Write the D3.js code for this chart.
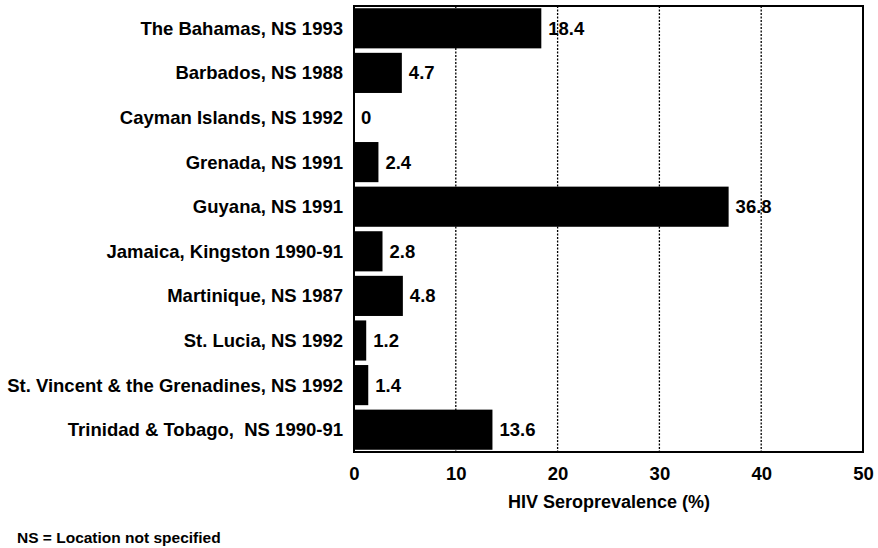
<!DOCTYPE html>
<html>
<head>
<meta charset="utf-8">
<script src="https://cdn.jsdelivr.net/npm/d3@7/dist/d3.min.js"></script>
<style>
  body { margin: 0; background: #fff; }
  svg { display: block; font-family: "Liberation Sans", Arial, sans-serif; }
</style>
</head>
<body>
<div id="chart"></div>
<script>
var categories = [
  "The Bahamas, NS 1993",
  "Barbados, NS 1988",
  "Cayman Islands, NS 1992",
  "Grenada, NS 1991",
  "Guyana, NS 1991",
  "Jamaica, Kingston 1990-91",
  "Martinique, NS 1987",
  "St. Lucia, NS 1992",
  "St. Vincent & the Grenadines, NS 1992",
  "Trinidad & Tobago,  NS 1990-91"
];
var values = [18.4, 4.7, 0, 2.4, 36.8, 2.8, 4.8, 1.2, 1.4, 13.6];
var xTicks = [0, 10, 20, 30, 40, 50];

var width = 878, height = 548;
var margins = { top: 6, right: 15, bottom: 96, left: 354 };
var chartWidth = width - margins.left - margins.right;
var chartHeight = height - margins.top - margins.bottom;

var svg = d3.select("#chart").append("svg")
  .attr("width", width)
  .attr("height", height);

var chartElement = svg.append("g")
  .attr("transform", `translate(${margins.left},${margins.top})`);

var xScale = d3.scaleLinear().domain([0, 50]).range([0, chartWidth]);
var yScale = d3.scaleBand().domain(categories).range([0, chartHeight]).paddingInner(0.1).paddingOuter(0.05);

// Dotted grid lines
chartElement.append("g")
  .selectAll("line")
  .data(xTicks.filter((d) => d > 0 && d < 50))
  .enter()
  .append("line")
  .attr("x1", (d) => xScale(d))
  .attr("x2", (d) => xScale(d))
  .attr("y1", 0)
  .attr("y2", chartHeight)
  .style("stroke", "#000")
  .style("stroke-width", 1.3)
  .style("stroke-dasharray", "2,1.5");

// Bars
chartElement.append("g")
  .selectAll("rect")
  .data(values)
  .enter()
  .append("rect")
  .attr("x", xScale(0))
  .attr("y", (d, i) => yScale(categories[i]))
  .attr("width", (d) => xScale(d) - xScale(0))
  .attr("height", yScale.bandwidth())
  .style("fill", "#000");

// Frame
chartElement.append("rect")
  .attr("x", 0)
  .attr("y", 0)
  .attr("width", chartWidth)
  .attr("height", chartHeight)
  .style("fill", "none")
  .style("stroke", "#000")
  .style("stroke-width", 2);

// Category labels (keep the double space in the Trinidad label)
chartElement.append("g")
  .selectAll("text")
  .data(categories)
  .enter()
  .append("text")
  .text((d) => d)
  .attr("x", -11)
  .attr("y", (d) => yScale(d) + yScale.bandwidth() / 2)
  .attr("dy", "0.35em")
  .style("white-space", "pre")
  .style("text-anchor", "end")
  .style("font-size", "18.5px")
  .style("font-weight", "bold");

// Value labels
chartElement.append("g")
  .selectAll("text")
  .data(values)
  .enter()
  .append("text")
  .text((d) => d)
  .attr("x", (d) => xScale(d) + 7)
  .attr("y", (d, i) => yScale(categories[i]) + yScale.bandwidth() / 2)
  .attr("dy", "0.35em")
  .style("font-size", "18.5px")
  .style("font-weight", "bold");

// X axis
var xAxis = d3.axisBottom(xScale).tickValues(xTicks).tickSize(0).tickPadding(15);
var axisG = chartElement.append("g")
  .attr("transform", `translate(0,${chartHeight})`)
  .call(xAxis);
axisG.select(".domain").remove();
axisG.selectAll("text")
  .style("font-family", "'Liberation Sans', Arial, sans-serif")
  .style("font-size", "18.5px")
  .style("font-weight", "bold")
  .style("fill", "#000");

// Axis title
chartElement.append("text")
  .text("HIV Seroprevalence (%)")
  .attr("x", 609 - margins.left)
  .attr("y", chartHeight + 56)
  .style("text-anchor", "middle")
  .style("font-size", "18px")
  .style("font-weight", "bold");

// Footnote
svg.append("text")
  .text("NS = Location not specified")
  .attr("x", 17)
  .attr("y", 543)
  .style("font-size", "15.5px")
  .style("font-weight", "bold");
</script>
</body>
</html>
